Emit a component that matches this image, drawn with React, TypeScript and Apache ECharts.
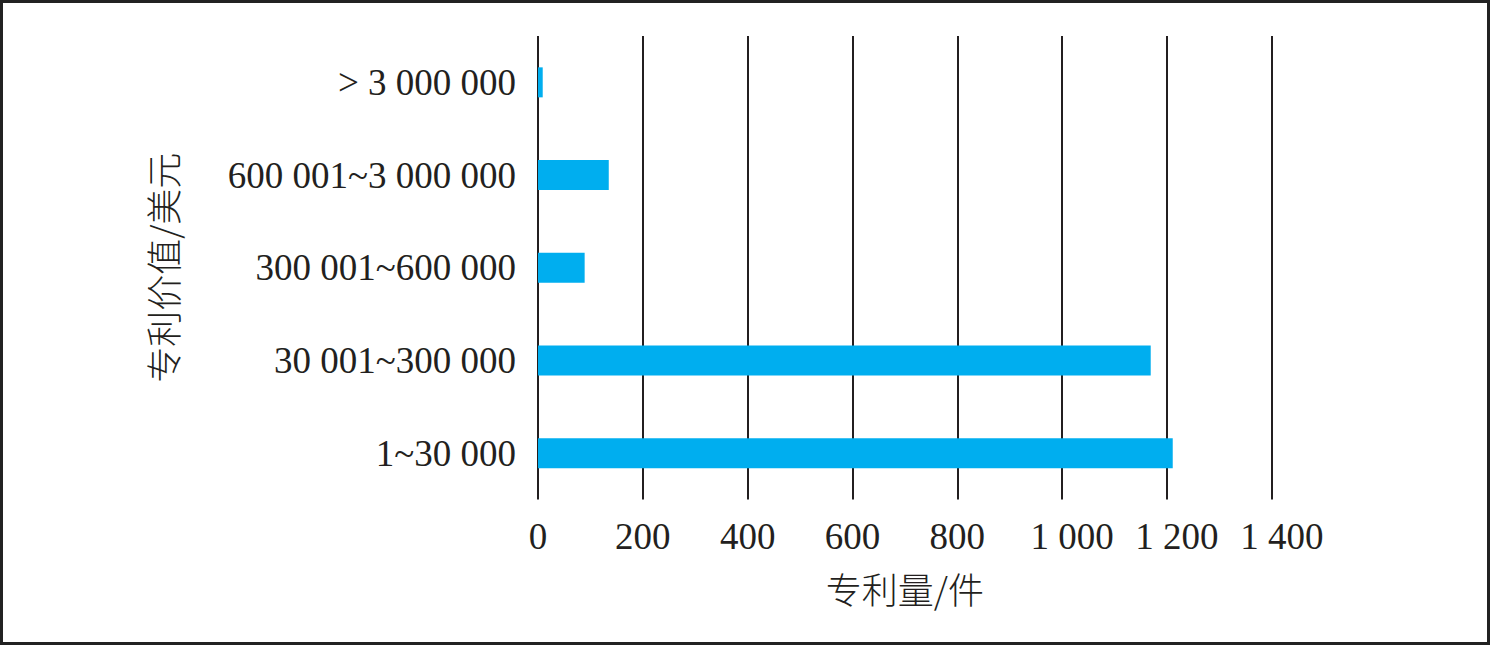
import React, { useEffect, useRef } from "react";
import * as echarts from "echarts";

const categories = ["1~30 000", "30 001~300 000", "300 001~600 000", "600 001~3 000 000", "> 3 000 000"];
const values = [1211, 1169, 89, 135, 9];
const xTicks = { min: 0, max: 1400, interval: 200 };
const xName = "专利量/件";
const yName = "专利价值/美元";

const serif = "'Liberation Serif', 'Times New Roman', serif";
const cjk = "'Noto Sans CJK SC', sans-serif";

export default function App() {
  const ref = useRef<HTMLDivElement>(null);
  useEffect(() => {
    if (!ref.current) return;
    const chart = echarts.init(ref.current, null, { renderer: "svg" });
    chart.setOption({
      animation: false,
      backgroundColor: "#fff",
      graphic: [
        {
          type: "rect",
          shape: { x: 1.5, y: 1.5, width: 1487, height: 642 },
          style: { fill: "none", stroke: "#222", lineWidth: 3 },
          silent: true,
        },
      ],
      grid: { left: 538, top: 36, width: 733.8, height: 463.5, containLabel: false },
      xAxis: {
        type: "value",
        min: xTicks.min,
        max: xTicks.max,
        interval: xTicks.interval,
        name: xName,
        nameLocation: "middle",
        nameGap: 70,
        nameTextStyle: { fontFamily: cjk, fontSize: 36, color: "#231f20", fontWeight: 300 },
        axisLine: { show: false },
        axisTick: { show: false },
        axisLabel: {
          margin: 18,
          fontFamily: serif,
          fontSize: 37,
          color: "#231f20",
          formatter: (v: number) => {
            const s = String(v).replace(/\B(?=(\d{3})+(?!\d))/g, " ");
            return v >= 1000 ? "{k|" + s + "}" : s;
          },
          rich: {
            k: { fontFamily: serif, fontSize: 37, color: "#231f20", padding: [0, 0, 0, 20] },
          },
        },
        splitLine: { show: true, lineStyle: { color: "#231f20", width: 2 } },
      },
      yAxis: {
        type: "category",
        data: categories,
        name: yName,
        nameLocation: "middle",
        nameRotate: 90,
        nameGap: 358,
        nameTextStyle: { fontFamily: cjk, fontSize: 36, color: "#231f20", fontWeight: 300 },
        axisLine: { show: false },
        axisTick: { show: false },
        axisLabel: { margin: 22, fontFamily: serif, fontSize: 37, color: "#231f20" },
        splitLine: { show: false },
      },
      series: [
        {
          type: "bar",
          data: values,
          barWidth: 30,
          itemStyle: { color: "#00aeef" },
        },
      ],
    });
    return () => chart.dispose();
  }, []);
  return (
    <div
      ref={ref}
      style={{ position: "fixed", left: 0, top: 0, width: 1491, height: 646 }}
    />
  );
}
